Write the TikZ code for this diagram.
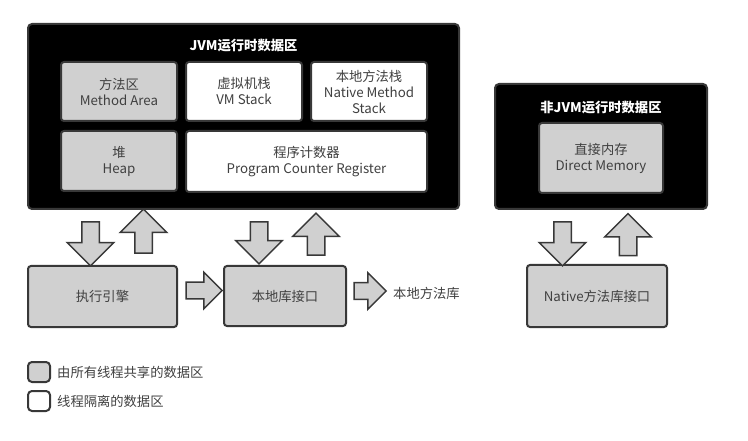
\documentclass[tikz,border=0pt]{standalone}
\usepackage{fontspec}
\setmainfont{Noto Sans CJK SC}
\usetikzlibrary{shapes.arrows, positioning}
\definecolor{boxgray}{HTML}{D0D0D0}
\definecolor{edgegray}{HTML}{383838}
\definecolor{textgray}{HTML}{404040}
\tikzstyle{area}=[rectangle, draw=edgegray, fill=black, line width=2pt, rounded corners=4pt]
\tikzstyle{shared}=[rectangle, draw=edgegray, fill=boxgray, line width=2pt, rounded corners=3pt, text=textgray, align=center, inner sep=0pt]
\tikzstyle{private}=[shared, fill=white]
\tikzstyle{areatitle}=[text=white, font=\fontsize{13.3}{16}\selectfont\bfseries]
\tikzstyle{fat}=[single arrow, draw=edgegray, fill=boxgray, line width=1.5pt, single arrow head extend=14.5pt, minimum size=44pt, inner xsep=0pt, inner ysep=8pt, outer sep=0pt]
\tikzstyle{fatside}=[fat, inner ysep=7.5pt, single arrow head extend=10pt]
\tikzstyle{label}=[text=textgray, inner sep=0pt]

\begin{document}
\begin{tikzpicture}[x=1pt, y=-1pt, font=\fontsize{13.3}{16}\selectfont]
    \useasboundingbox (0,0) rectangle (748,441);

    % JVM runtime area
    \node[area, minimum width=431pt, minimum height=185pt] (jvm) at (243.5,116.5) {};
    \node[areatitle] (jvmtitle) at (243.5,46) {JVM运行时数据区};
    \node[shared, minimum width=116pt, minimum height=59pt] (method) at (119,91.5) {方法区\\Method Area};
    \node[private, minimum width=116pt, minimum height=59pt] (vmstack) at (244,91.5) {虚拟机栈\\VM Stack};
    \node[private, minimum width=116pt, minimum height=59pt] (nstack) at (369,91.5) {本地方法栈\\Native Method\\Stack};
    \node[shared, minimum width=116pt, minimum height=60pt] (heap) at (119,161) {堆\\Heap};
    \node[private, minimum width=241pt, minimum height=61pt] (pc) at (306.5,161.5) {程序计数器\\Program Counter Register};

    % non-JVM area
    \node[area, minimum width=212pt, minimum height=125pt] (nonjvm) at (601,146.5) {};
    \node[areatitle] (nonjvmtitle) at (601,108) {非JVM运行时数据区};
    \node[shared, minimum width=124pt, minimum height=70pt] (direct) at (601,158) {直接内存\\Direct Memory};

    % bottom row
    \node[shared, minimum width=149pt, minimum height=61pt] (engine) at (102.5,296.5) {执行引擎};
    \node[shared, minimum width=122pt, minimum height=60pt] (jni) at (285,296) {本地库接口};
    \node[label, anchor=west] (nlib) at (393,293) {本地方法库};
    \node[shared, minimum width=140pt, minimum height=62pt] (nativejni) at (597,296) {Native方法库接口};

    % fat arrows
    \node[fat, rotate=-90] (down1) at (90.5,239.5) {};
    \node[fat, rotate=90] (up1) at (143.5,235.5) {};
    \node[fat, rotate=-90, minimum size=42pt] (down2) at (259,238.5) {};
    \node[fat, rotate=90, minimum size=42pt] (up2) at (316,238.5) {};
    \node[fat, rotate=-90] (down3) at (562.5,239.5) {};
    \node[fat, rotate=90, minimum size=42pt] (up3) at (628,239) {};
    \node[fatside, minimum size=36pt] (right1) at (200,290.5) {};
    \node[fatside, minimum size=32pt] (right2) at (366,291) {};

    % legend
    \node[shared, minimum width=22pt, minimum height=20pt, rounded corners=4pt] (keyshared) at (39,372) {};
    \node[label, right=6pt of keyshared] (keysharedtext) {由所有线程共享的数据区};
    \node[private, minimum width=22pt, minimum height=20pt, rounded corners=4pt] (keyprivate) at (39,401) {};
    \node[label, right=6pt of keyprivate] (keyprivatetext) {线程隔离的数据区};
\end{tikzpicture}
\end{document}
